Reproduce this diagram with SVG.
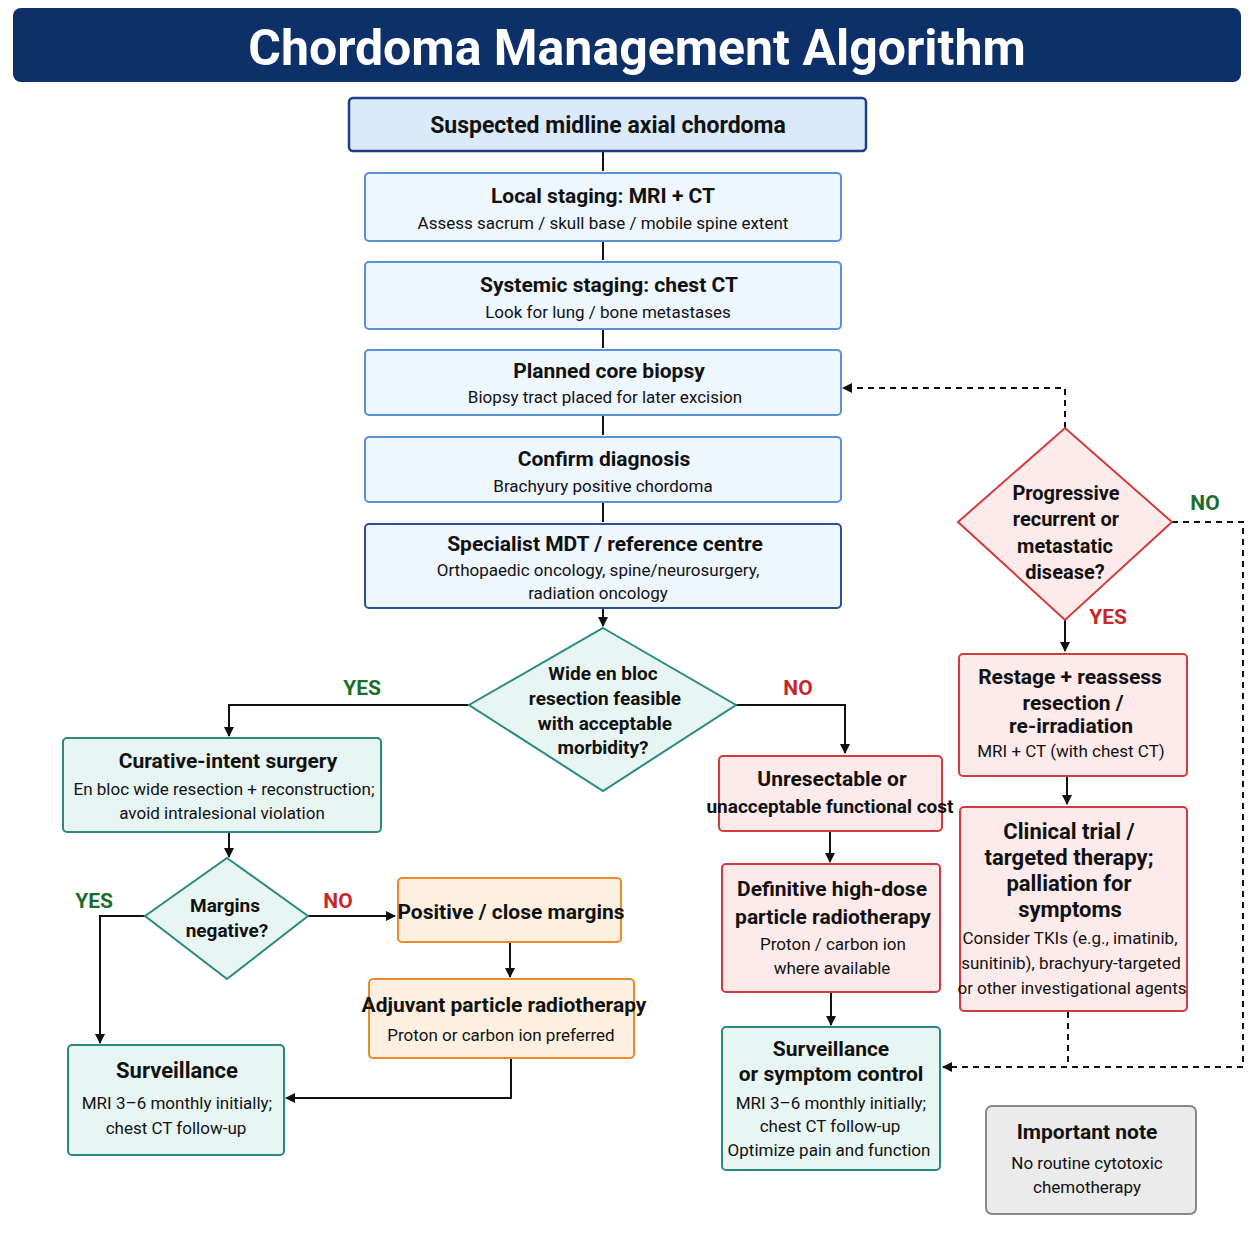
<svg xmlns="http://www.w3.org/2000/svg" width="1254" height="1254" viewBox="0 0 1254 1254">
<style>
text{font-family:Roboto,"Liberation Sans",sans-serif;text-anchor:middle;fill:#111}
.t{font-weight:bold;font-size:21px}
.s{font-size:17px}
.blue{fill:#eef6fe;stroke:#5b8fd6;stroke-width:2}
.teal{fill:#e8f6f3;stroke:#2a8a7e;stroke-width:2}
.red{fill:#fdeaea;stroke:#d23b3b;stroke-width:2}
.org{fill:#fdf0e1;stroke:#e98a2c;stroke-width:2}
.c{fill:none;stroke:#111;stroke-width:2}
.d{fill:none;stroke:#111;stroke-width:2;stroke-dasharray:6,5}
.yes{fill:#1b6e2e;font-weight:bold;font-size:21px}
.no{fill:#c62828;font-weight:bold;font-size:21px}
</style>
<defs><marker id="a" markerWidth="10" markerHeight="10" refX="9" refY="5" orient="auto" markerUnits="userSpaceOnUse"><path d="M0,0 L10,5 L0,10 z" fill="#111"/></marker></defs>
<rect width="1254" height="1254" fill="#fff"/>
<g id="title"><rect x="13" y="8" width="1228" height="74" rx="8" fill="#0d3069"/><text x="637" y="65" style="font-size:50px;font-weight:bold;fill:#fff">Chordoma Management Algorithm</text></g>
<g id="connectors">
<path class="c" d="M603 151V171M603 241V260M603 329V348M603 415V435M603 502V522M603 608V626" marker-end="url(#a)"/>
<path class="c" d="M469 705H229V736" marker-end="url(#a)"/>
<path class="c" d="M736 705H845V753" marker-end="url(#a)"/>
<path class="c" d="M229 832V857" marker-end="url(#a)"/>
<path class="c" d="M145 916H100V1043" marker-end="url(#a)"/>
<path class="c" d="M308 916H395" marker-end="url(#a)"/>
<path class="c" d="M510 942V977" marker-end="url(#a)"/>
<path class="c" d="M511 1058V1098H286" marker-end="url(#a)"/>
<path class="c" d="M830 831V862" marker-end="url(#a)"/>
<path class="c" d="M831 992V1025" marker-end="url(#a)"/>
<path class="c" d="M1065 620V651" marker-end="url(#a)"/>
<path class="c" d="M1067 776V804" marker-end="url(#a)"/>
<path class="d" d="M1065 428V388H843" marker-end="url(#a)"/>
<path class="d" d="M1172 522H1243V1067H943" marker-end="url(#a)"/>
<path class="d" d="M1068 1012V1067"/>
<text x="362" y="695" class="yes">YES</text><text x="798" y="695" class="no">NO</text>
<text x="94" y="908" class="yes">YES</text><text x="338" y="908" class="no">NO</text>
<text x="1108" y="624" class="no">YES</text><text x="1205" y="510" class="yes">NO</text>
</g>
<g id="n1"><rect x="349" y="98" width="517" height="53" rx="4" fill="#dbeaf9" stroke="#1f3f8a" stroke-width="2.5"/><text x="608" y="133" class="t" style="font-size:23px">Suspected midline axial chordoma</text></g>
<g id="n2"><rect class="blue" x="365" y="173" width="476" height="68" rx="4"/><text x="603" y="203" class="t">Local staging: MRI + CT</text><text x="603" y="229" class="s">Assess sacrum / skull base / mobile spine extent</text></g>
<g id="n3"><rect class="blue" x="365" y="262" width="476" height="67" rx="4"/><text x="609" y="292" class="t">Systemic staging: chest CT</text><text x="608" y="318" class="s">Look for lung / bone metastases</text></g>
<g id="n4"><rect class="blue" x="365" y="350" width="476" height="65" rx="4"/><text x="609" y="378" class="t">Planned core biopsy</text><text x="605" y="403" class="s">Biopsy tract placed for later excision</text></g>
<g id="n5"><rect class="blue" x="365" y="437" width="476" height="65" rx="4"/><text x="604" y="466" class="t">Confirm diagnosis</text><text x="603" y="492" class="s">Brachyury positive chordoma</text></g>
<g id="n6"><rect x="365" y="524" width="476" height="84" rx="4" fill="#eef6fe" stroke="#2a4f9a" stroke-width="2"/><text x="605" y="551" class="t">Specialist MDT / reference centre</text><text x="598" y="576" class="s">Orthopaedic oncology, spine/neurosurgery,</text><text x="598" y="599" class="s">radiation oncology</text></g>
<g id="d1"><polygon points="603,628 736,705 603,791 469,705" class="teal"/><text x="603" y="680" class="t" style="font-size:19px">Wide en bloc</text><text x="605" y="705" class="t" style="font-size:19px">resection feasible</text><text x="605" y="730" class="t" style="font-size:19px">with acceptable</text><text x="603" y="754" class="t" style="font-size:19px">morbidity?</text></g>
<g id="n7"><rect class="teal" x="63" y="738" width="318" height="94" rx="4"/><text x="228" y="768" class="t">Curative-intent surgery</text><text x="224" y="795" class="s">En bloc wide resection + reconstruction;</text><text x="222" y="819" class="s">avoid intralesional violation</text></g>
<g id="d2"><polygon points="227,858 308,916 227,979 145,916" class="teal"/><text x="225" y="912" class="t" style="font-size:19px">Margins</text><text x="227" y="937" class="t" style="font-size:19px">negative?</text></g>
<g id="n8"><rect class="org" x="398" y="878" width="223" height="64" rx="4"/><text x="511" y="919" class="t">Positive / close margins</text></g>
<g id="n9"><rect class="org" x="369" y="979" width="265" height="79" rx="4"/><text x="504" y="1012" class="t">Adjuvant particle radiotherapy</text><text x="501" y="1041" class="s">Proton or carbon ion preferred</text></g>
<g id="n10"><rect class="teal" x="68" y="1045" width="216" height="110" rx="4"/><text x="177" y="1078" class="t" style="font-size:22px">Surveillance</text><text x="177" y="1109" class="s">MRI 3–6 monthly initially;</text><text x="176" y="1134" class="s">chest CT follow-up</text></g>
<g id="n11"><rect class="red" x="719" y="756" width="223" height="75" rx="4"/><text x="832" y="786" class="t">Unresectable or</text><text x="830" y="813" class="t" style="font-size:19px">unacceptable functional cost</text></g>
<g id="n12"><rect class="red" x="722" y="864" width="218" height="128" rx="4"/><text x="832" y="896" class="t">Definitive high-dose</text><text x="833" y="924" class="t">particle radiotherapy</text><text x="833" y="950" class="s">Proton / carbon ion</text><text x="832" y="974" class="s">where available</text></g>
<g id="n13"><rect class="teal" x="722" y="1027" width="218" height="143" rx="4"/><text x="831" y="1056" class="t">Surveillance</text><text x="831" y="1081" class="t">or symptom control</text><text x="831" y="1109" class="s">MRI 3–6 monthly initially;</text><text x="830" y="1132" class="s">chest CT follow-up</text><text x="829" y="1156" class="s">Optimize pain and function</text></g>
<g id="d3"><polygon points="1065,428 1172,522 1065,620 958,522" class="red"/><text x="1066" y="500" class="t" style="font-size:20px">Progressive</text><text x="1066" y="526" class="t" style="font-size:20px">recurrent or</text><text x="1065" y="553" class="t" style="font-size:20px">metastatic</text><text x="1065" y="579" class="t" style="font-size:20px">disease?</text></g>
<g id="n14"><rect class="red" x="959" y="654" width="228" height="122" rx="4"/><text x="1070" y="684" class="t">Restage + reassess</text><text x="1073" y="710" class="t">resection /</text><text x="1071" y="733" class="t">re-irradiation</text><text x="1071" y="757" class="s">MRI + CT (with chest CT)</text></g>
<g id="n15"><rect class="red" x="960" y="807" width="227" height="204" rx="4"/><text x="1069" y="839" class="t" style="font-size:22px">Clinical trial /</text><text x="1069" y="865" class="t" style="font-size:22px">targeted therapy;</text><text x="1069" y="891" class="t" style="font-size:22px">palliation for</text><text x="1070" y="917" class="t" style="font-size:22px">symptoms</text><text x="1070" y="944" class="s">Consider TKIs (e.g., imatinib,</text><text x="1071" y="969" class="s">sunitinib), brachyury-targeted</text><text x="1072" y="994" class="s">or other investigational agents</text></g>
<g id="n16"><rect x="986" y="1106" width="210" height="108" rx="6" fill="#ebebeb" stroke="#888" stroke-width="2"/><text x="1087" y="1139" class="t">Important note</text><text x="1087" y="1169" class="s">No routine cytotoxic</text><text x="1087" y="1193" class="s">chemotherapy</text></g>
</svg>
